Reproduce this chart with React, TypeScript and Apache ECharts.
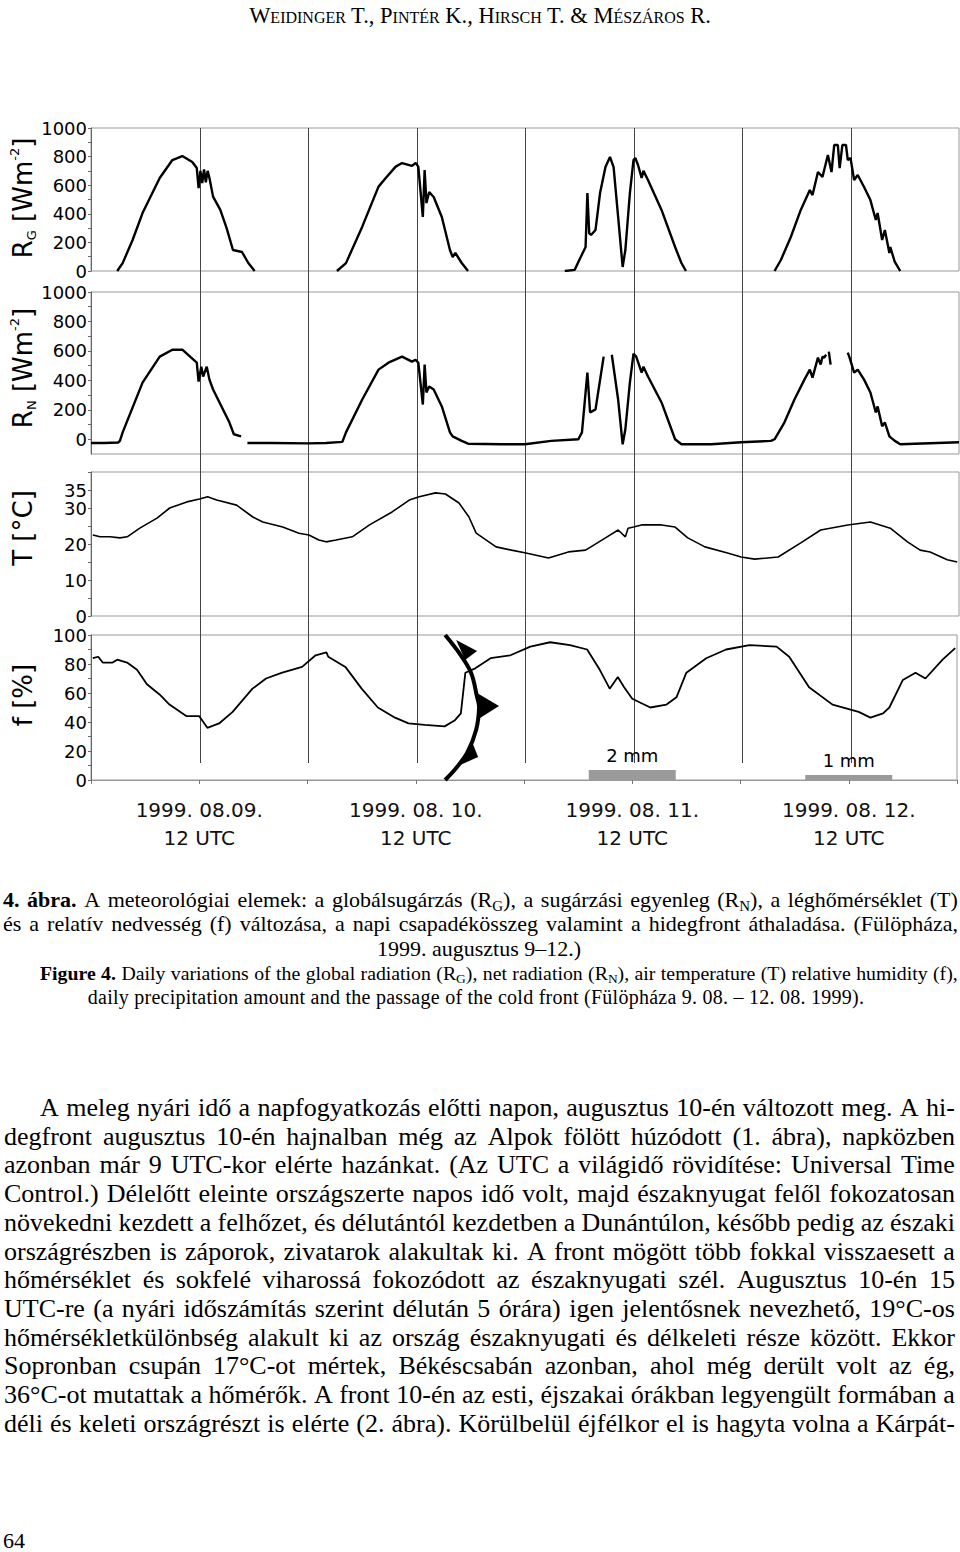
import React, { useEffect, useRef } from "react";
import * as echarts from "echarts";

// ---------- DATA (hours since 1999-08-09 00 UTC) ----------
const rgData: (number | null)[][] = [
  [2.9, 0], [3.5, 55], [4.6, 217], [5.7, 405], [7.6, 650], [9.0, 776], [10.1, 804], [11.2, 762], [11.7, 720],
  [11.9, 580], [12.1, 700], [12.3, 615], [12.5, 710], [12.7, 620], [12.9, 700], [13.1, 650], [13.5, 520],
  [14.3, 427], [15.0, 300], [15.7, 147], [16.7, 133], [17.4, 56], [18.1, 0],
  [18.2, null],
  [27.2, 0], [28.2, 55], [30.0, 310], [31.8, 590], [32.6, 650], [33.7, 730], [34.4, 755], [35.5, 735], [35.9, 755],
  [36.2, 730], [36.7, 378], [36.9, 706], [37.1, 475], [37.4, 552], [37.9, 517], [38.8, 378], [39.7, 147],
  [40.0, 98], [40.3, 126], [41.0, 56], [41.7, 0],
  [41.8, null],
  [52.4, 0], [53.5, 8], [53.9, 63], [54.7, 168], [54.9, 545], [55.1, 265], [55.3, 252], [55.8, 287], [56.3, 545],
  [56.9, 727], [57.4, 797], [57.8, 727], [58.3, 378], [58.8, 28], [59.1, 147], [59.6, 545], [60.0, 776],
  [60.2, 790], [60.5, 741], [60.9, 650], [61.1, 700], [61.6, 636], [63.1, 427], [64.6, 168], [65.3, 56], [65.8, 0],
  [65.9, null],
  [75.6, 0], [76.3, 77], [77.4, 238], [78.5, 427], [79.5, 566], [79.8, 531], [80.4, 692], [80.9, 657], [81.5, 811],
  [81.9, 692], [82.2, 881], [82.6, 881], [82.8, 720], [83.1, 881], [83.5, 881], [83.7, 776], [84.0, 790],
  [84.4, 636], [84.8, 671], [85.5, 587], [86.2, 496], [86.8, 357], [87.0, 406], [87.5, 217], [87.8, 287],
  [88.3, 126], [88.4, 168], [88.9, 63], [89.5, 0],
];

const rnData: (number | null)[][] = [
  [0, -25], [1.5, -25], [3.0, -22], [3.2, -11], [3.5, 47], [5.7, 385], [7.6, 561], [9.0, 608], [10.1, 608],
  [11.7, 520], [11.9, 392], [12.2, 493], [12.4, 426], [12.8, 493], [13.1, 405], [13.5, 338], [15.3, 115],
  [15.8, 34], [16.6, 20],
  [16.9, null],
  [17.3, -25], [20, -25], [24, -28], [26, -25], [27.8, -18], [28.2, 47], [30.0, 270], [31.8, 473], [32.9, 520],
  [34.4, 561], [35.5, 527], [35.9, 540], [36.2, 520], [36.7, 236], [36.9, 507], [37.1, 318], [37.4, 358],
  [37.9, 338], [38.8, 223], [39.7, 47], [40.0, 20], [41.0, -11], [41.7, -30], [45.4, -34], [48.0, -34],
  [50.9, -11], [53.9, 0], [54.3, 47], [54.9, 453], [55.2, 182], [55.8, 203], [56.7, 561],
  [57.1, null],
  [57.6, 574], [58.3, 270], [58.8, -34], [59.1, 68], [59.6, 385], [60.0, 581], [60.3, 561], [60.9, 453],
  [61.1, 493], [61.6, 426], [63.1, 250], [64.6, 0], [65.3, -34], [68.6, -34], [71.9, -20], [75.2, -11],
  [75.6, 0], [76.7, 115], [77.8, 270], [78.9, 405], [79.5, 473], [79.8, 419], [80.4, 554], [80.7, 507],
  [80.9, 561], [81.1, 554], [81.3, 574],
  [81.4, null],
  [81.6, 595], [81.8, 507],
  [82.0, null],
  [83.7, 588], [83.9, 554], [84.4, 453], [84.8, 473], [85.5, 405], [86.2, 318], [86.8, 182], [87.0, 223],
  [87.5, 88], [87.8, 115], [88.3, 20], [88.9, -11], [89.5, -34], [96, -20],
];

const tData: number[][] = [
  [0.2, 22.5], [1.0, 22.0], [2.1, 22.0], [3.2, 21.7], [4.0, 22.0], [5.4, 24.4], [7.3, 27.2], [8.7, 30.0],
  [10.6, 31.7], [12.0, 32.5], [12.9, 33.1], [13.9, 32.2], [16.1, 30.8], [17.9, 27.5], [19.0, 26.1],
  [21.2, 24.7], [23.0, 23.0], [24.1, 22.5], [25.2, 21.1], [26.0, 20.6], [27.1, 21.1], [28.9, 22.0],
  [30.8, 25.3], [33.3, 28.9], [35.2, 32.2], [36.3, 33.1], [38.1, 34.2], [39.2, 33.9], [40.7, 31.4],
  [41.8, 27.5], [42.6, 23.0], [44.8, 19.2], [46.5, 18.3], [48.1, 17.5], [50.6, 16.1], [52.8, 17.8],
  [54.7, 18.3], [56.9, 21.7], [58.3, 23.9], [59.1, 22.0], [59.4, 24.4], [60.0, 24.7], [60.9, 25.3],
  [63.1, 25.3], [64.6, 24.7], [66.0, 21.7], [67.9, 19.2], [70.4, 17.5], [71.9, 16.4], [73.4, 15.8],
  [76.0, 16.4], [78.5, 20.3], [80.7, 23.9], [83.7, 25.3], [86.2, 26.1], [88.4, 24.4], [90.3, 20.6],
  [91.7, 18.3], [92.8, 17.8], [94.7, 15.6], [95.8, 15.0],
];

const fData: number[][] = [
  [0.2, 84], [0.8, 85], [1.3, 81], [2.4, 81], [2.9, 83], [4.0, 81], [5.1, 76], [6.2, 66], [7.6, 59], [8.7, 52],
  [10.6, 44], [12.0, 44], [12.9, 36], [14.2, 39], [15.7, 47], [17.9, 63], [19.4, 70], [21.2, 74], [23.4, 78],
  [24.9, 86], [26.1, 88], [26.3, 85], [28.2, 78], [30.0, 63], [31.8, 50], [33.7, 43], [35.2, 39], [37.0, 38],
  [39.2, 37], [40.3, 41], [41.0, 46], [41.5, 74], [42.6, 77], [44.3, 84], [46.5, 86], [48.7, 92], [50.9, 95],
  [53.1, 93], [55.0, 90], [56.4, 76], [57.5, 63], [58.4, 71], [59.1, 64], [60.0, 56], [62.0, 50], [63.8, 52],
  [64.9, 57], [66.0, 74], [68.2, 84], [70.4, 90], [73.0, 93], [76.0, 92], [77.4, 85], [79.6, 64], [82.2, 52],
  [85.1, 47], [86.4, 43], [87.8, 46], [88.5, 50], [90.0, 69], [91.4, 74], [92.5, 70], [94.4, 83], [95.8, 91],
];

// daily precipitation (mm), centred on 12 UTC
const precipData: number[][] = [[60, 2], [84, 1]];

// cold front in (hour, f %) coordinates
const frontCurve: number[][] = [
  [39.26, 100], [40.81, 87.6], [42.14, 73.8], [42.8, 57.2], [43.02, 50.3], [42.69, 34.5], [41.69, 18.6],
  [40.48, 8.3], [39.26, 0],
];
const frontFlags: number[][][] = [
  [[40.48, 96.6], [41.47, 82.8], [42.8, 89.0]],
  [[42.8, 60.0], [43.13, 42.8], [45.23, 51.0]],
  [[42.25, 26.2], [40.92, 10.3], [42.91, 15.9]],
];

const vlineHours = [12, 24, 36, 48, 60, 72, 84];
const dayLabels: Record<number, string> = {
  12: "1999. 08.09.\n12 UTC",
  36: "1999. 08. 10.\n12 UTC",
  60: "1999. 08. 11.\n12 UTC",
  84: "1999. 08. 12.\n12 UTC",
};

const captionLines = [
  "**4. ábra.** A meteorológiai elemek: a globálsugárzás (R_{G}), a sugárzási egyenleg (R_{N}), a léghőmérséklet (T)",
  "és a relatív nedvesség (f) változása, a napi csapadékösszeg valamint a hidegfront áthaladása. (Fülöpháza,",
  "1999. augusztus 9–12.)",
  "**Figure 4.** Daily variations of the global radiation (R_{G}), net radiation (R_{N}), air temperature (T) relative humidity (f),",
  "daily precipitation amount and the passage of the cold front (Fülöpháza 9. 08. – 12. 08. 1999).",
];

const bodyLines = [
  "A meleg nyári idő a napfogyatkozás előtti napon, augusztus 10-én változott meg. A hi-",
  "degfront augusztus 10-én hajnalban még az Alpok fölött húzódott (1. ábra), napközben",
  "azonban már 9 UTC-kor elérte hazánkat. (Az UTC a világidő rövidítése: Universal Time",
  "Control.) Délelőtt eleinte országszerte napos idő volt, majd északnyugat felől fokozatosan",
  "növekedni kezdett a felhőzet, és délutántól kezdetben a Dunántúlon, később pedig az északi",
  "országrészben is záporok, zivatarok alakultak ki. A front mögött több fokkal visszaesett a",
  "hőmérséklet és sokfelé viharossá fokozódott az északnyugati szél. Augusztus 10-én 15",
  "UTC-re (a nyári időszámítás szerint délután 5 órára) igen jelentősnek nevezhető, 19°C-os",
  "hőmérsékletkülönbség alakult ki az ország északnyugati és délkeleti része között. Ekkor",
  "Sopronban csupán 17°C-ot mértek, Békéscsabán azonban, ahol még derült volt az ég,",
  "36°C-ot mutattak a hőmérők. A front 10-én az esti, éjszakai órákban legyengült formában a",
  "déli és keleti országrészt is elérte (2. ábra). Körülbelül éjfélkor el is hagyta volna a Kárpát-",
];

const FONT = "DejaVu Sans";
const GRID_LEFT = 91;
const GRID_W = 868;

function yAxisBase(grid: number, min: number, max: number, interval: number, show: (v: number) => boolean) {
  return {
    type: "value",
    gridIndex: grid,
    min,
    max,
    interval,
    axisLine: { show: true, lineStyle: { color: "#666", width: 1 } },
    axisTick: { show: true, length: 3, lineStyle: { color: "#666" } },
    splitLine: { show: false },
    axisLabel: {
      fontSize: 18,
      fontFamily: FONT,
      color: "#000",
      margin: 4,
      formatter: (v: number) => (show(v) ? String(v) : ""),
    },
  };
}

function xAxisHidden(grid: number) {
  return {
    type: "value",
    gridIndex: grid,
    min: 0,
    max: 96,
    interval: 12,
    axisLine: { show: false },
    axisTick: { show: false },
    axisLabel: { show: false },
    splitLine: { show: false },
  };
}

const Chart: React.FC = () => {
  const ref = useRef<HTMLDivElement>(null);
  useEffect(() => {
    if (!ref.current) return;
    const chart = echarts.init(ref.current, undefined, { renderer: "svg" });
    const gridStyle = { show: true, borderColor: "#999", borderWidth: 1, left: GRID_LEFT, width: GRID_W };
    const nameStyle = {
      m: { fontSize: 26, fontFamily: FONT, fill: "#000", lineHeight: 30 },
      s: { fontSize: 13, fontFamily: FONT, fill: "#000", verticalAlign: "bottom", lineHeight: 30 },
      p: { fontSize: 13, fontFamily: FONT, fill: "#000", verticalAlign: "top", lineHeight: 30 },
    };
    const axisName = (text: string, cy: number) => ({
      type: "text",
      x: 23,
      y: cy,
      rotation: Math.PI / 2,
      style: { text, rich: nameStyle, align: "center", verticalAlign: "middle", fill: "#000", fontSize: 26, fontFamily: FONT },
    });

    chart.setOption({
      animation: false,
      grid: [
        { ...gridStyle, top: 128, height: 143 },
        { ...gridStyle, top: 292, height: 162 },
        { ...gridStyle, top: 472, height: 144 },
        { ...gridStyle, top: 635, height: 145 },
        { show: false, left: GRID_LEFT, width: GRID_W, top: 128, height: 635 },
      ],
      xAxis: [
        xAxisHidden(0),
        xAxisHidden(1),
        xAxisHidden(2),
        {
          type: "value",
          gridIndex: 3,
          min: 0,
          max: 96,
          interval: 12,
          axisLine: { show: true, lineStyle: { color: "#999" } },
          axisTick: { show: true, length: 4, lineStyle: { color: "#777" } },
          splitLine: { show: false },
          axisLabel: {
            fontSize: 20,
            lineHeight: 28,
            fontFamily: FONT,
            color: "#111",
            margin: 16,
            formatter: (v: number) => dayLabels[v] ?? "",
          },
        },
        xAxisHidden(4),
      ],
      yAxis: [
        yAxisBase(0, 0, 1000, 100, (v) => v % 200 === 0),
        yAxisBase(1, -100, 1000, 100, (v) => v % 200 === 0 || v === -100),
        yAxisBase(2, 0, 40, 5, (v) => [0, 10, 20, 30, 35].includes(v)),
        yAxisBase(3, 0, 100, 10, (v) => v % 20 === 0),
        { type: "value", gridIndex: 3, min: 0, max: 29, show: false },
        { type: "value", gridIndex: 4, min: 0, max: 1, show: false },
      ],
      graphic: [
        axisName("{m|R}{s|G}{m| [Wm}{p|-2}{m|]}", 198),
        axisName("{m|R}{s|N}{m| [Wm}{p|-2}{m|]}", 368),
        axisName("{m|T [°C]}", 528),
        axisName("{m|f [%]}", 695),
      ],
      series: [
        {
          type: "custom",
          xAxisIndex: 4,
          yAxisIndex: 5,
          z: 1,
          data: vlineHours.map((h) => [h, 0]),
          renderItem: (params: any, api: any) => {
            const x = Math.round(api.coord([api.value(0), 0])[0]) + 0.5;
            const cs = params.coordSys;
            return {
              type: "line",
              shape: { x1: x, y1: cs.y, x2: x, y2: cs.y + cs.height },
              style: { stroke: "#444", lineWidth: 1 },
            };
          },
        },
        {
          type: "line",
          xAxisIndex: 0,
          yAxisIndex: 0,
          data: rgData,
          showSymbol: false,
          symbol: "none",
          connectNulls: false,
          lineStyle: { color: "#000", width: 2.4 },
          z: 3,
        },
        {
          type: "line",
          xAxisIndex: 1,
          yAxisIndex: 1,
          data: rnData,
          showSymbol: false,
          symbol: "none",
          connectNulls: false,
          lineStyle: { color: "#000", width: 2.4 },
          z: 3,
        },
        {
          type: "line",
          xAxisIndex: 2,
          yAxisIndex: 2,
          data: tData,
          showSymbol: false,
          symbol: "none",
          lineStyle: { color: "#000", width: 1.6 },
          z: 3,
        },
        {
          type: "line",
          xAxisIndex: 3,
          yAxisIndex: 3,
          data: fData,
          showSymbol: false,
          symbol: "none",
          lineStyle: { color: "#000", width: 1.8 },
          z: 3,
        },
        {
          type: "bar",
          xAxisIndex: 3,
          yAxisIndex: 4,
          data: precipData,
          barWidth: 87,
          itemStyle: { color: "#9a9a9a" },
          label: {
            show: true,
            position: "top",
            distance: 6,
            fontSize: 18,
            fontFamily: FONT,
            color: "#000",
            formatter: (p: any) => `${p.value[1]} mm`,
          },
          z: 2,
        },
        {
          type: "custom",
          xAxisIndex: 3,
          yAxisIndex: 3,
          z: 4,
          clip: false,
          data: [[40, 50]],
          renderItem: (_params: any, api: any) => {
            const children: any[] = [
              {
                type: "polyline",
                shape: { points: frontCurve.map((p) => api.coord(p)), smooth: 0.35 },
                style: { stroke: "#000", lineWidth: 4, fill: null },
              },
            ];
            frontFlags.forEach((tri) =>
              children.push({
                type: "polygon",
                shape: { points: tri.map((p) => api.coord(p)) },
                style: { fill: "#000" },
              })
            );
            return { type: "group", children };
          },
        },
      ],
    });
    return () => chart.dispose();
  }, []);
  return <div ref={ref} style={{ position: "absolute", left: 0, top: 0, width: 960, height: 870 }} />;
};

const serif = "'Liberation Serif', 'Times New Roman', serif";
const subStyle: React.CSSProperties = { fontSize: "0.68em", verticalAlign: "-0.25em", lineHeight: 0 };

// "_{X}" marks a subscript inside a word
function renderWord(w: string, key: number) {
  const parts = w.split(/_\{(.*?)\}/);
  const nodes = parts.map((p, i) =>
    i % 2 === 1 ? (
      <span key={i} style={subStyle}>
        {p}
      </span>
    ) : (
      <React.Fragment key={i}>{p}</React.Fragment>
    )
  );
  return <span key={key}>{nodes}</span>;
}

// words between "**" markers are bold
function renderLine(line: string) {
  const words: React.ReactNode[] = [];
  let bold = false;
  line.split(" ").forEach((w, i) => {
    let word = w;
    let isBold = bold;
    if (word.startsWith("**")) {
      isBold = true;
      bold = true;
      word = word.slice(2);
    }
    if (word.endsWith("**")) {
      word = word.slice(0, -2);
      bold = false;
    }
    const node = renderWord(word, i);
    words.push(isBold ? <b key={i}>{node}</b> : node);
  });
  return words;
}

const JLine: React.FC<{ top: number; left: number; width: number; fs: number; lh: number; text: string }> = ({ top, left, width, fs, lh, text }) => (
  <div
    style={{
      position: "absolute",
      top,
      left,
      width,
      height: lh,
      fontSize: fs,
      lineHeight: `${lh}px`,
      fontFamily: serif,
      display: "flex",
      justifyContent: "space-between",
      whiteSpace: "nowrap",
      color: "#000",
    }}
  >
    {renderLine(text)}
  </div>
);

const CLine: React.FC<{ top: number; cx: number; fs: number; lh: number; ls?: number; text: string }> = ({ top, cx, fs, lh, ls = 0, text }) => (
  <div
    style={{
      position: "absolute",
      top,
      left: cx - 480,
      width: 960,
      fontSize: fs,
      lineHeight: `${lh}px`,
      letterSpacing: ls,
      fontFamily: serif,
      textAlign: "center",
      whiteSpace: "nowrap",
      color: "#000",
    }}
  >
    {renderLine(text).map((n, i) => (
      <React.Fragment key={i}>
        {i > 0 ? " " : ""}
        {n}
      </React.Fragment>
    ))}
  </div>
);

export default function App() {
  const capLH = 24.3;
  const capTop = 888;
  const bodyLH = 28.7;
  const bodyTop = 1094;
  return (
    <div style={{ position: "absolute", left: 0, top: 0, width: 960, height: 1552, background: "#fff", overflow: "hidden" }}>
      <Chart />
      <div
        style={{
          position: "absolute",
          top: 3,
          left: 0,
          width: 960,
          textAlign: "center",
          fontFamily: serif,
          fontSize: 22.5,
          fontVariant: "small-caps",
          color: "#000",
        }}
      >
        Weidinger T., Pintér K., Hirsch T. &amp; Mészáros R.
      </div>
      <JLine top={capTop} left={3} width={955} fs={22} lh={capLH} text={captionLines[0]} />
      <JLine top={capTop + capLH} left={3} width={955} fs={22} lh={capLH} text={captionLines[1]} />
      <CLine top={capTop + capLH * 2} cx={479} fs={22} lh={capLH} text={captionLines[2]} />
      <JLine top={capTop + capLH * 3} left={40} width={918} fs={19.8} lh={capLH} text={captionLines[3]} />
      <CLine top={capTop + capLH * 4} cx={476} fs={20} lh={capLH} ls={0.25} text={captionLines[4]} />
      {bodyLines.map((t, i) => (
        <JLine key={i} top={bodyTop + i * bodyLH} left={i === 0 ? 40 : 4} width={i === 0 ? 915 : 951} fs={26} lh={bodyLH} text={t} />
      ))}
      <div style={{ position: "absolute", left: 3, top: 1528, fontFamily: serif, fontSize: 22, color: "#000" }}>64</div>
    </div>
  );
}
